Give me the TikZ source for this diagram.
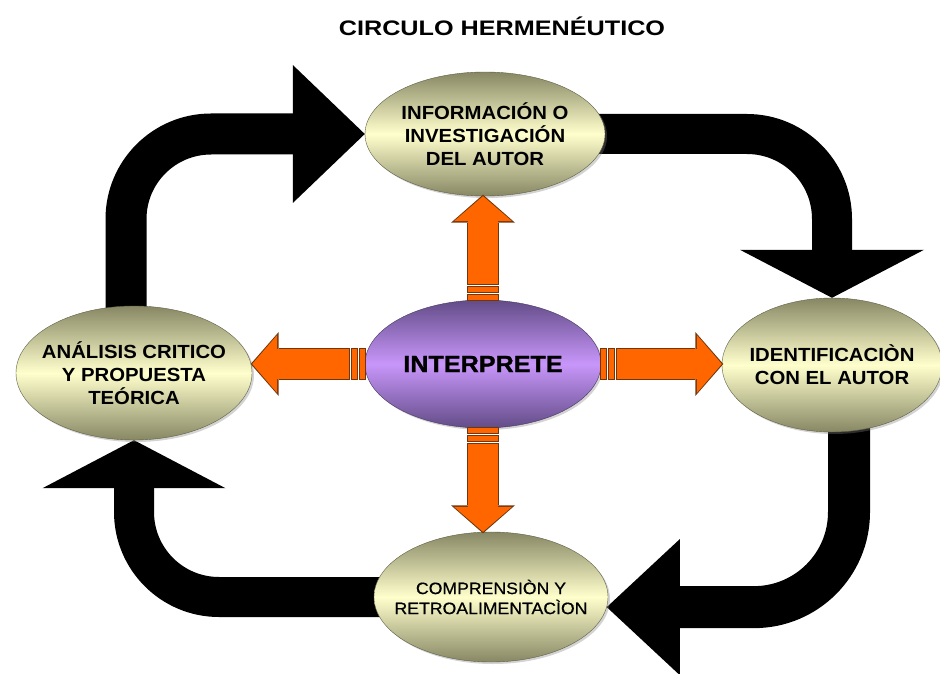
\documentclass[tikz,border=0pt]{standalone}
\usepackage{fontspec}
\setmainfont{Liberation Sans}[FakeStretch=1.07]
\newfontfamily\titlefont{Liberation Sans}[FakeStretch=1.2]
\newfontfamily\midfont{Liberation Sans}[FakeStretch=1.07, FakeBold=0.6]
\newfontfamily\heavyfont{Liberation Sans Bold}[FakeStretch=1.07, FakeBold=1.2]
\usepackage{xcolor}
\usepackage{tikz}
\usetikzlibrary{arrows.meta}
\usetikzlibrary{calc,shapes,shadows,backgrounds}
\definecolor{olivedark}{RGB}{135,135,100}
\definecolor{olivelight}{RGB}{255,255,205}
\definecolor{oliveline}{RGB}{95,95,70}
\definecolor{purpledark}{RGB}{98,76,135}
\definecolor{purplelight}{RGB}{200,150,250}
\definecolor{purpleline}{RGB}{70,55,95}
\definecolor{arroworange}{RGB}{255,102,0}
\definecolor{arrowline}{RGB}{110,55,15}
\tikzset{
    stage/.style={
        draw=oliveline,
        ellipse,
        top color=olivedark,
        bottom color=olivedark,
        middle color=olivelight,
        drop shadow={opacity=0.35, shadow xshift=2pt, shadow yshift=-2pt},
        align=center,
        inner xsep=-20pt,
        inner ysep=-10pt,
        font=\bfseries\fontsize{19}{23}\selectfont
    },
    core/.style={
        draw=purpleline,
        ellipse,
        top color=purpledark,
        bottom color=purpledark,
        middle color=purplelight,
        drop shadow={opacity=0.35, shadow xshift=2pt, shadow yshift=-2pt},
        inner sep=0pt,
        font=\heavyfont\fontsize{23.5}{28}\selectfont
    },
    bigarrow/.style={
        draw=black,
        line width=41pt,
        rounded corners=85pt
    },
    pointer/.style={
        draw=arroworange,
        line width=30pt,
        -{Triangle[length=25pt, width=58pt, line width=0pt]},
        preaction={draw=arrowline, line width=32pt, shorten <=-1pt, shorten >=-1.5pt,
            -{Triangle[length=28pt, width=64pt, line width=0pt]}}
    },
    pointerbar/.style={
        draw=arroworange,
        line width=30pt,
        preaction={draw=arrowline, line width=32pt, shorten <=-1pt, shorten >=-1pt}
    }
}

\begin{document}
\begin{tikzpicture}[x=1pt, y=-1pt]
    \useasboundingbox (0,0) rectangle (940,674);

    \node[font=\titlefont\bfseries\fontsize{21}{25}\selectfont] (title) at (502,26) {CIRCULO HERMENÉUTICO};

    \node[stage, minimum width=240pt, minimum height=124pt] (info) at (485,134) {INFORMACIÓN O\\INVESTIGACIÓN\\DEL AUTOR};
    \node[stage, minimum width=220pt, minimum height=134pt] (ident) at (832,365) {IDENTIFICACIÒN\\CON EL AUTOR};
    \node[stage, minimum width=234pt, minimum height=130pt, font=\midfont\fontsize{16.5}{20}\selectfont] (compr) at (491,597) {COMPRENSIÒN Y\\RETROALIMENTACÌON};
    \node[stage, minimum width=236pt, minimum height=134pt] (analisis) at (134,373) {ANÁLISIS CRITICO\\Y PROPUESTA\\TEÓRICA};
    \node[core, minimum width=236pt, minimum height=128pt] (interp) at (483,364) {INTERPRETE};

    % the loop, behind the ellipses
    \begin{scope}[on background layer]
        \draw[bigarrow, -{Triangle[length=72pt, width=138pt, line width=0pt]}] ([xshift=-8pt]analisis.center) |- (info.west);
        \draw[bigarrow, line width=40pt, -{Triangle[length=48pt, width=184pt, line width=0pt]}] (info.center) -| (ident.north);
        \draw[bigarrow, line width=42pt, rounded corners=95pt, -{Triangle[length=73pt, width=136pt, line width=0pt]}] ([xshift=17pt]ident.center) |- (compr.-5);
        \draw[bigarrow, line width=40pt, -{Triangle[length=48pt, width=183pt, line width=0pt]}] (compr.center) -| (analisis.south);
    \end{scope}

    % the interpreter points to each stage
    \coordinate (upend) at (interp.north |- info.south);
    \coordinate (rightend) at (interp.east -| ident.west);
    \coordinate (downend) at (interp.south |- compr.north);
    \coordinate (leftend) at (interp.west -| analisis.east);

    \draw[pointerbar] (interp.north) -- ($(interp.north)!5pt!(upend)$);
    \draw[pointerbar] ($(interp.north)!8pt!(upend)$) -- ($(interp.north)!13pt!(upend)$);
    \draw[pointer] ($(interp.north)!16pt!(upend)$) -- (upend);

    \draw[pointerbar] (interp.east) -- ($(interp.east)!5pt!(rightend)$);
    \draw[pointerbar] ($(interp.east)!8pt!(rightend)$) -- ($(interp.east)!13pt!(rightend)$);
    \draw[pointer] ($(interp.east)!16pt!(rightend)$) -- (rightend);

    \draw[pointerbar] (interp.south) -- ($(interp.south)!5pt!(downend)$);
    \draw[pointerbar] ($(interp.south)!8pt!(downend)$) -- ($(interp.south)!13pt!(downend)$);
    \draw[pointer] ($(interp.south)!16pt!(downend)$) -- (downend);

    \draw[pointerbar] (interp.west) -- ($(interp.west)!5pt!(leftend)$);
    \draw[pointerbar] ($(interp.west)!8pt!(leftend)$) -- ($(interp.west)!13pt!(leftend)$);
    \draw[pointer] ($(interp.west)!16pt!(leftend)$) -- (leftend);
\end{tikzpicture}
\end{document}
